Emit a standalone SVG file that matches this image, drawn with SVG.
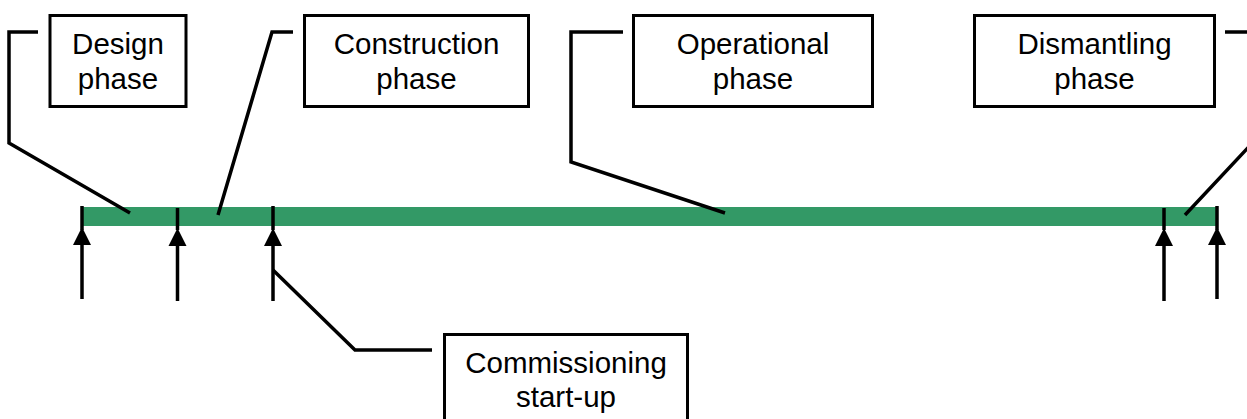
<svg xmlns="http://www.w3.org/2000/svg" width="1247" height="419" viewBox="0 0 1247 419">
<style>
.box{fill:#fff;stroke:#000;stroke-width:3}
.lbl{font-family:"Liberation Sans",Arial,sans-serif;font-size:29.5px;fill:#000;text-anchor:middle}
.con{fill:none;stroke:#000;stroke-width:3.5}
.tick{stroke:#000;stroke-width:3.5}
.arr{stroke:#000;stroke-width:3.5}
.head{fill:#000}
</style>
<rect width="1247" height="419" fill="#fff"/>
<g id="timeline">
<rect x="82" y="207" width="1136" height="19" fill="#339966"/>
</g>
<g id="connectors">
<polyline class="con" points="38,32 9,32 9,143 130,213"/>
<polyline class="con" points="293,32 272,32 218,215"/>
<polyline class="con" points="623,32 571,32 571,162 725,213"/>
<polyline class="con" points="1225,32 1258,32 1258,137 1185,215"/>
<polyline class="con" points="273,270 355,350 432,350"/>
</g>
<g id="markers">
<line class="tick" x1="82" y1="206" x2="82" y2="230"/>
<line class="tick" x1="177.5" y1="208" x2="177.5" y2="230"/>
<line class="tick" x1="273" y1="206" x2="273" y2="230"/>
<line class="tick" x1="1164" y1="208" x2="1164" y2="230"/>
<line class="tick" x1="1217" y1="206" x2="1217" y2="230"/>
<line class="arr" x1="82" y1="243" x2="82" y2="299"/>
<line class="arr" x1="177.5" y1="243" x2="177.5" y2="301"/>
<line class="arr" x1="273" y1="243" x2="273" y2="301"/>
<line class="arr" x1="1164" y1="243" x2="1164" y2="301"/>
<line class="arr" x1="1217" y1="243" x2="1217" y2="299"/>
<polygon class="head" points="82,227 73,245 91,245"/>
<polygon class="head" points="177.5,228 168.5,246 186.5,246"/>
<polygon class="head" points="273,228 264,246 282,246"/>
<polygon class="head" points="1164,228 1155,246 1173,246"/>
<polygon class="head" points="1217,227 1208,245 1226,245"/>
</g>
<g id="design">
<rect class="box" x="50" y="15.5" width="136" height="91"/>
<text class="lbl" x="118" y="54">Design</text>
<text class="lbl" x="118" y="89">phase</text>
</g>
<g id="construction">
<rect class="box" x="304.5" y="15.5" width="224" height="91"/>
<text class="lbl" x="416.5" y="54">Construction</text>
<text class="lbl" x="416.5" y="89">phase</text>
</g>
<g id="operational">
<rect class="box" x="633.5" y="15.5" width="239" height="91"/>
<text class="lbl" x="753" y="54">Operational</text>
<text class="lbl" x="753" y="89">phase</text>
</g>
<g id="dismantling">
<rect class="box" x="974.5" y="15.5" width="240" height="91"/>
<text class="lbl" x="1094.5" y="54">Dismantling</text>
<text class="lbl" x="1094.5" y="89">phase</text>
</g>
<g id="commissioning">
<rect class="box" x="444.5" y="334.5" width="243" height="100"/>
<text class="lbl" x="566" y="373">Commissioning</text>
<text class="lbl" x="566" y="407">start-up</text>
</g>
</svg>
